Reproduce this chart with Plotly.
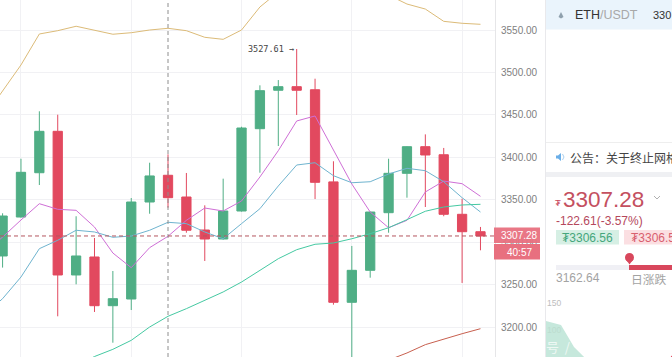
import plotly.graph_objects as go

W, H = 672, 357

# --- candle data (ETH/USDT) ---
candle_index = list(range(27))
opens = [3283.7, 3329.6, 3381.8, 3430.6, 3261.3, 3282.5, 3225.1, 3233.0, 3347.3, 3378.8, 3353.2, 3314.3, 3303.7, 3336.7,
         3433.7, 3479.0, 3483.2, 3479.6, 3371.0, 3229.1, 3266.8, 3334.7, 3381.1, 3412.5, 3403.0, 3332.8, 3312.3]
highs = [3334.0, 3398.3, 3454.2, 3450.2, 3330.5, 3304.9, 3266.0, 3352.0, 3393.6, 3403.5, 3381.5, 3343.4, 3374.8, 3436.0,
         3484.8, 3491.0, 3527.61, 3492.6, 3395.3, 3295.5, 3336.0, 3398.3, 3413.0, 3427.0, 3411.0, 3351.2, 3317.9]
lows = [3270.0, 3329.0, 3367.3, 3212.6, 3250.3, 3217.7, 3181.5, 3220.0, 3333.5, 3340.6, 3311.1, 3277.8, 3303.0, 3336.0,
        3381.8, 3413.3, 3449.8, 3350.8, 3226.3, 3150.0, 3258.1, 3311.1, 3352.4, 3341.4, 3330.5, 3251.9, 3290.4]
closes = [3330.8, 3382.3, 3430.6, 3261.3, 3283.7, 3225.1, 3233.4, 3347.3, 3378.0, 3352.4, 3314.0, 3303.7, 3336.7, 3434.5,
          3478.5, 3483.2, 3479.0, 3370.5, 3229.1, 3266.8, 3335.5, 3381.1, 3412.5, 3402.7, 3332.8, 3312.3, 3307.28]

# --- moving averages ---
ma_index = list(range(-1, 27))
ma_gold = [3447.5, 3478.1, 3508.8, 3545.3, 3549.2, 3554.4, 3550.0, 3545.0, 3546.8, 3550.0, 3552.0, 3549.2, 3541.4, 3539.0,
           3550.0, 3577.1, 3594.8, 3606.6, 3614.8, 3614.8, 3611.3, 3606.6, 3591.2, 3580.6, 3574.7, 3560.2, 3557.9, 3556.7]
ma_purple = [3287.2, 3306.0, 3326.1, 3345.3, 3338.7, 3337.5, 3317.8, 3287.2, 3269.9, 3293.5, 3306.9, 3325.7, 3340.2, 3336.7,
             3348.5, 3376.8, 3407.8, 3442.8, 3448.7, 3407.8, 3368.5, 3335.5, 3317.0, 3325.7, 3359.1, 3372.0, 3368.9, 3354.0]
ma_blue = [3214.2, 3233.4, 3258.9, 3292.3, 3302.2, 3314.0, 3312.0, 3305.7, 3307.2, 3314.0, 3323.4, 3321.8, 3312.0, 3304.0,
           3321.8, 3339.4, 3366.2, 3390.9, 3393.6, 3378.3, 3370.0, 3371.2, 3380.3, 3387.0, 3384.2, 3371.2, 3352.4, 3335.5]
ma_green_index = list(range(3, 27))
ma_green = [3143.4, 3154.0, 3165.2, 3173.7, 3184.3, 3200.0, 3212.6, 3221.6, 3231.5, 3241.3, 3253.0, 3266.8, 3280.5, 3291.1,
            3297.5, 3299.0, 3304.0, 3310.0, 3317.0, 3326.5, 3336.4, 3341.4, 3343.8, 3344.6]
ma_red_index = [21, 22, 23, 24, 25, 26]
ma_red = [3161.0, 3169.4, 3179.2, 3185.9, 3192.1, 3198.0]

price_ticks = [3200, 3250, 3300, 3350, 3400, 3450, 3500, 3550]
price_tick_labels = ["3200.00", "3250.00", "3300.00", "3350.00", "3400.00", "3450.00", "3500.00", "3550.00"]
grid_index = [1, 7, 13, 19, 25]
crosshair_index = 9
last_price = 3307.28
high_label = "3527.61 →"
high_price = 3527.61
high_index = 16

# --- sidebar depth chart ---
depth_bid_x = [0, 15, 28, 38, 42]
depth_bid_y = [115.5, 108, 68, 50, 43]
depth_ask_x = [124, 127]
depth_ask_y = [48, 54]

GREEN = "#4fae85"
RED = "#e2495f"
FONT = "Liberation Sans"
CJK = "Noto Sans CJK SC"


def fx(p):
    return p / W


def fy(p):
    return 1 - p / H


fig = go.Figure()

fig.add_trace(go.Candlestick(
    x=candle_index, open=opens, high=highs, low=lows, close=closes,
    increasing=dict(line=dict(color=GREEN, width=1), fillcolor=GREEN),
    decreasing=dict(line=dict(color=RED, width=1), fillcolor=RED),
    whiskerwidth=0, hoverinfo="skip", showlegend=False))

for xs, ys, color in [
    (ma_index, ma_gold, "#dcbb78"),
    (ma_index, ma_purple, "#cf6fd6"),
    (ma_index, ma_blue, "#6fb4cf"),
    (ma_green_index, ma_green, "#45c9a2"),
    (ma_red_index, ma_red, "#c8604f"),
]:
    fig.add_trace(go.Scatter(x=xs, y=ys, mode="lines", line=dict(color=color, width=1),
                             hoverinfo="skip", showlegend=False))

fig.add_trace(go.Scatter(x=depth_bid_x, y=depth_bid_y, xaxis="x2", yaxis="y2", mode="lines",
                         line=dict(width=0), fill="tozeroy", fillcolor="#c6e8dc",
                         hoverinfo="skip", showlegend=False))
fig.add_trace(go.Scatter(x=depth_ask_x, y=depth_ask_y, xaxis="x2", yaxis="y2", mode="lines",
                         line=dict(color="#e2495f", width=1), hoverinfo="skip", showlegend=False))

shapes = [
    # crosshair and last-price line
    dict(type="line", xref="x", yref="paper", x0=crosshair_index, x1=crosshair_index, y0=0, y1=1,
         line=dict(color="#8e8e8e", width=1, dash="4px,3px"), layer="above"),
    dict(type="line", xref="x domain", yref="y", x0=0, x1=1, y0=last_price, y1=last_price,
         line=dict(color="#b4565f", width=1, dash="4px,3px"), layer="above"),
    # price label box
    dict(type="rect", xref="paper", yref="paper", x0=fx(494), x1=fx(540), y0=fy(227.5), y1=fy(243),
         fillcolor="#e8707f", line=dict(width=0), opacity=0.95),
    dict(type="rect", xref="paper", yref="paper", x0=fx(494), x1=fx(540), y0=fy(244), y1=fy(259.5),
         fillcolor="#e8707f", line=dict(width=0)),
    # sidebar
    dict(type="line", xref="paper", yref="paper", x0=fx(545.5), x1=fx(545.5), y0=0, y1=1,
         line=dict(color="#e9e9ec", width=1)),
    dict(type="rect", xref="paper", yref="paper", x0=fx(546), x1=1, y0=fy(0), y1=fy(29.5),
         fillcolor="#eaf4fc", line=dict(width=0)),
    dict(type="line", xref="paper", yref="paper", x0=fx(546), x1=1, y0=fy(142.5), y1=fy(142.5),
         line=dict(color="#eeeeee", width=1)),
    dict(type="rect", xref="paper", yref="paper", x0=fx(546), x1=1, y0=fy(172), y1=fy(177),
         fillcolor="#eff0f3", line=dict(width=0)),
    # pills
    dict(type="rect", xref="paper", yref="paper", x0=fx(556), x1=fx(619), y0=fy(230), y1=fy(244.5),
         fillcolor="#d6efe4", line=dict(width=0)),
    dict(type="rect", xref="paper", yref="paper", x0=fx(624), x1=1, y0=fy(230), y1=fy(244.5),
         fillcolor="#fbdfe2", line=dict(width=0)),
    # day range bar
    dict(type="rect", xref="paper", yref="paper", x0=fx(556), x1=fx(629), y0=fy(265), y1=fy(270),
         fillcolor="#f0f0f5", line=dict(width=0)),
    dict(type="rect", xref="paper", yref="paper", x0=fx(629), x1=1, y0=fy(265), y1=fy(270),
         fillcolor="#d8475c", line=dict(width=0)),
    dict(type="circle", xref="paper", yref="paper", x0=fx(625), x1=fx(634), y0=fy(253), y1=fy(262),
         fillcolor="#d8475c", line=dict(width=0)),
    dict(type="path", xref="paper", yref="paper",
         path=f"M {fx(625.5)} {fy(259)} L {fx(629.5)} {fy(264.5)} L {fx(633.5)} {fy(259)} Z",
         fillcolor="#d8475c", line=dict(width=0)),
    # chevron
    dict(type="path", xref="paper", yref="paper",
         path=f"M {fx(654)} {fy(196)} L {fx(657)} {fy(199)} L {fx(660)} {fy(196)}",
         line=dict(color="#b0b0b0", width=1)),
    # ETH icon
    dict(type="path", xref="paper", yref="paper",
         path=f"M {fx(561)} {fy(12)} L {fx(563.5)} {fy(17)} L {fx(561)} {fy(18.5)} L {fx(558.5)} {fy(17)} Z",
         fillcolor="#8fa0ad", line=dict(width=0)),
    # speaker icon
    dict(type="path", xref="paper", yref="paper",
         path=f"M {fx(556)} {fy(155.5)} L {fx(558)} {fy(155.5)} L {fx(561)} {fy(153)} L {fx(561)} {fy(161)} L {fx(558)} {fy(158.5)} L {fx(556)} {fy(158.5)} Z",
         fillcolor="#6aaee8", line=dict(width=0)),
    dict(type="path", xref="paper", yref="paper",
         path=f"M {fx(562.5)} {fy(154)} Q {fx(565.5)} {fy(157)} {fx(562.5)} {fy(160)}",
         line=dict(color="#a9d0f0", width=1)),
]


def label(x, y, text, size, color, anchor="left", family=FONT):
    return dict(xref="paper", yref="paper", x=fx(x), y=fy(y), text=text, showarrow=False,
                xanchor=anchor, yanchor="middle", font=dict(family=family, size=size, color=color),
                borderpad=0, borderwidth=0)


annotations = [
    dict(xref="x", yref="y", x=high_index, y=high_price, xanchor="right", xshift=-1, yanchor="middle",
         text=high_label, showarrow=False,
         font=dict(family="DejaVu Sans Mono", size=8.5, color="#444444")),
    label(519, 235.5, "3307.28", 10, "#ffffff", "center"),
    label(519, 252, "40:57", 10, "#ffffff", "center"),
    label(575, 15, "<span style='color:#333333'>ETH</span><span style='color:#a8a8a8'>/USDT</span>", 12.5, "#333333"),
    label(653, 15, "330", 11, "#333333"),
    label(570, 157, "公告：关于终止网格", 12, "#444444", family=CJK),
    label(555, 202, "₮", 9.5, "#c9475c"),
    label(563, 199, "3307.28", 22.5, "#c4505f"),
    label(556, 221, "-122.61(-3.57%)", 12, "#b5485c"),
    label(562, 237.5, "₮3306.56", 12, "#45a67c"),
    label(631, 237.5, "₮3306.5", 12, "#d9606f"),
    label(556, 278, "3162.64", 12, "#a3a3a3"),
    label(631, 278, "日涨跌", 11.8, "#a3a3a3", family=CJK),
    label(547, 302.5, "150", 8.5, "#bdbdbd"),
    label(547, 330, "100", 8.5, "#bcdccf"),
    label(546, 346, "号&nbsp;&nbsp;/", 13, "#eef8f4", family=CJK),
]

fig.update_layout(
    width=W, height=H, autosize=False,
    margin=dict(l=0, r=0, t=0, b=0, pad=0),
    paper_bgcolor="#ffffff", plot_bgcolor="#ffffff",
    showlegend=False, boxgap=0.28, hovermode=False,
    xaxis=dict(domain=[0, 495 / W], range=[-0.141, 26.79], rangeslider=dict(visible=False),
               showticklabels=False, ticks="", tickmode="array", tickvals=grid_index,
               showgrid=True, gridcolor="#f1f1f4", gridwidth=1, zeroline=False, showline=False),
    yaxis=dict(domain=[0, 1], range=[3164.65, 3585.35], side="right", anchor="x",
               tickmode="array", tickvals=price_ticks, ticktext=price_tick_labels,
               tickfont=dict(family=FONT, size=10, color="#808080"), ticks="outside", ticklen=3,
               tickcolor="rgba(0,0,0,0)", showgrid=True, gridcolor="#f1f1f4", gridwidth=1,
               zeroline=False, showline=True, linecolor="#e6e6e8", linewidth=1),
    xaxis2=dict(domain=[546 / W, 1], range=[0, 126], visible=False, anchor="y2"),
    yaxis2=dict(domain=[0, 55 / H], range=[50, 150], visible=False, anchor="x2"),
    shapes=shapes, annotations=annotations,
)

fig.write_html("out.html", config=dict(displayModeBar=False),
               post_script="document.body.style.margin='0';document.body.style.overflow='hidden';")
